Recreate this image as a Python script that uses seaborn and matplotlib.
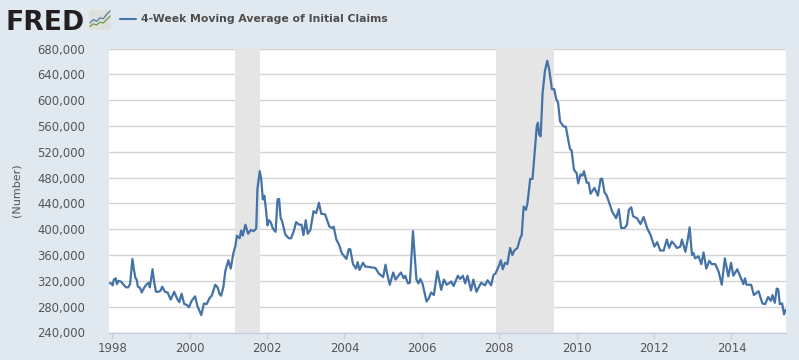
# FRED initial claims chart
import matplotlib
matplotlib.use("Agg")
import matplotlib.pyplot as plt
from matplotlib.lines import Line2D
import seaborn as sns

YEARS = [
    1997.91, 1997.97, 1998.01, 1998.04, 1998.09, 1998.12, 1998.16, 1998.22, 1998.28, 1998.35,
    1998.41, 1998.46, 1998.52, 1998.56, 1998.60, 1998.63, 1998.66, 1998.72, 1998.76, 1998.82,
    1998.89, 1998.94, 1998.97, 1999.04, 1999.08, 1999.13, 1999.19, 1999.25, 1999.29, 1999.36,
    1999.43, 1999.51, 1999.60, 1999.67, 1999.73, 1999.79, 1999.86, 1999.92, 1999.98, 2000.05,
    2000.14, 2000.20, 2000.30, 2000.37, 2000.44, 2000.51, 2000.57, 2000.66, 2000.72, 2000.77,
    2000.81, 2000.87, 2000.92, 2001.00, 2001.06, 2001.13, 2001.18, 2001.22, 2001.29, 2001.33,
    2001.37, 2001.44, 2001.51, 2001.58, 2001.65, 2001.72, 2001.75, 2001.81, 2001.85, 2001.89,
    2001.93, 2001.97, 2002.01, 2002.05, 2002.10, 2002.15, 2002.22, 2002.27, 2002.31, 2002.35,
    2002.39, 2002.47, 2002.56, 2002.62, 2002.69, 2002.75, 2002.83, 2002.89, 2002.94, 2003.00,
    2003.05, 2003.12, 2003.20, 2003.27, 2003.34, 2003.40, 2003.50, 2003.61, 2003.68, 2003.72,
    2003.79, 2003.86, 2003.93, 2004.05, 2004.11, 2004.15, 2004.22, 2004.30, 2004.34, 2004.39,
    2004.48, 2004.54, 2004.58, 2004.69, 2004.80, 2004.89, 2005.00, 2005.06, 2005.10, 2005.17,
    2005.26, 2005.32, 2005.46, 2005.53, 2005.57, 2005.64, 2005.69, 2005.77, 2005.81, 2005.86,
    2005.91, 2005.96, 2006.02, 2006.12, 2006.18, 2006.24, 2006.31, 2006.40, 2006.50, 2006.57,
    2006.64, 2006.72, 2006.76, 2006.82, 2006.93, 2006.99, 2007.06, 2007.12, 2007.18, 2007.27,
    2007.33, 2007.41, 2007.53, 2007.63, 2007.70, 2007.79, 2007.85, 2007.91, 2008.00, 2008.04,
    2008.09, 2008.15, 2008.21, 2008.28, 2008.34, 2008.39, 2008.47, 2008.54, 2008.58, 2008.63,
    2008.69, 2008.73, 2008.80, 2008.86, 2008.92, 2008.97, 2009.00, 2009.03, 2009.07, 2009.12,
    2009.18, 2009.24, 2009.29, 2009.36, 2009.42, 2009.47, 2009.52, 2009.57, 2009.63, 2009.67,
    2009.72, 2009.78, 2009.83, 2009.87, 2009.93, 2010.00, 2010.04, 2010.10, 2010.15, 2010.19,
    2010.26, 2010.31, 2010.36, 2010.46, 2010.55, 2010.62, 2010.66, 2010.72, 2010.77, 2010.83,
    2010.92, 2011.02, 2011.09, 2011.15, 2011.24, 2011.30, 2011.35, 2011.41, 2011.46, 2011.56,
    2011.65, 2011.73, 2011.82, 2011.91, 2012.01, 2012.08, 2012.16, 2012.25, 2012.33, 2012.39,
    2012.46, 2012.52, 2012.59, 2012.68, 2012.72, 2012.81, 2012.87, 2012.92, 2012.98, 2013.02,
    2013.06, 2013.15, 2013.22, 2013.28, 2013.35, 2013.43, 2013.49, 2013.58, 2013.67, 2013.75,
    2013.83, 2013.92, 2013.99, 2014.05, 2014.15, 2014.24, 2014.31, 2014.35, 2014.39, 2014.51,
    2014.58, 2014.70, 2014.80, 2014.87, 2014.95, 2015.02, 2015.06, 2015.12, 2015.17, 2015.21,
    2015.25, 2015.31, 2015.36, 2015.40,
]
CLAIMS_K = [
    317, 316, 313, 322, 324, 315, 320, 319, 315, 310,
    310, 315, 354, 337, 324, 322, 311, 309, 302, 309,
    315, 317, 310, 338, 319, 303, 303, 305, 311, 303,
    302, 291, 303, 293, 287, 300, 284, 283, 279, 289,
    296, 281, 267, 285, 284, 293, 297, 314, 310, 300,
    297, 310, 335, 352, 339, 363, 374, 390, 386, 398,
    390, 407, 393, 399, 397, 401, 462, 490, 477, 446,
    452, 431, 406, 414, 410, 401, 396, 446, 447, 418,
    412, 392, 386, 386, 397, 411, 407, 407, 391, 414,
    393, 399, 428, 425, 441, 424, 423, 404, 402, 404,
    384, 376, 363, 354, 369, 369, 346, 339, 349, 337,
    348, 342, 342, 341, 340, 331, 326, 345, 332, 314,
    333, 322, 333, 324, 328, 316, 317, 397, 363, 322,
    316, 323, 315, 288, 293, 302, 298, 335, 306, 322,
    314, 317, 319, 312, 328, 323, 328, 316, 328, 305,
    322, 303, 317, 313, 321, 313, 329, 332, 345, 352,
    338, 348, 346, 371, 360, 367, 371, 386, 391, 435,
    430, 441, 478, 478, 523, 560, 565, 547, 544, 611,
    645, 661, 648, 617, 617, 602, 596, 567, 562, 559,
    559, 539, 524, 522, 492, 487, 471, 485, 483, 490,
    472, 472, 455, 464, 452, 478, 478, 457, 453, 443,
    427, 417, 431, 402, 402, 407, 430, 434, 420, 417,
    408, 419, 402, 391, 373, 380, 367, 367, 384, 371,
    381, 377, 371, 373, 384, 365, 384, 403, 360, 363,
    355, 358, 346, 364, 339, 351, 346, 346, 334, 314,
    355, 327, 348, 328, 338, 325, 315, 324, 314, 314,
    298, 304, 285, 284, 295, 289, 298, 286, 308, 307,
    284, 285, 268, 275,
]
RECESSIONS = [(2001.16, 2001.83), (2007.92, 2009.42)]
Y_TICKS = list(range(240000, 680001, 40000))
X_TICKS = list(range(1998, 2015, 2))
TITLE = "4-Week Moving Average of Initial Claims"

# little sparkline icon next to the logo
ICON_X = [0, 1, 2, 3, 4, 5, 6]
ICON_BLUE = [2.5, 4.5, 3.5, 5.5, 5, 7.5, 9.5]
ICON_GREEN = [0.5, 2, 1.5, 3, 2.5, 4.5, 6.5]

BG = "#E1E9F0"
LINE = "#4572A7"
TEXT = "#555555"
W, H = 799, 360

sns.set_theme(style="white")
plt.rcParams["font.family"] = ["DejaVu Sans"]

fig = plt.figure(figsize=(W / 100, H / 100), dpi=100, facecolor=BG)
ax = fig.add_axes([109 / W, 1 - 332.5 / H, 677 / W, 284 / H], facecolor="white")

for start, end in RECESSIONS:
    ax.axvspan(start, end, color="#E5E5E5", lw=0, zorder=1)

ax.set_axisbelow(True)
ax.yaxis.grid(True, color="#D4D4D4", lw=1.0, zorder=2)
ax.xaxis.grid(False)

sns.lineplot(x=YEARS, y=[v * 1000 for v in CLAIMS_K], ax=ax, color=LINE, lw=1.6,
             estimator=None, sort=False, zorder=3)

ax.set_xlim(1997.915, 2015.41)
ax.set_ylim(240000, 680000)
ax.set_xticks(X_TICKS)
ax.set_yticks(Y_TICKS)
ax.set_yticklabels([f"{v:,}" for v in Y_TICKS])
ax.tick_params(axis="x", bottom=True, length=4, width=0.8, color="#C0D0E0",
               labelsize=8.4, labelcolor=TEXT, pad=3)
ax.tick_params(axis="y", left=False, labelsize=8.4, labelcolor=TEXT, pad=11)
for side in ["left", "right", "top"]:
    ax.spines[side].set_visible(False)
ax.spines["bottom"].set_color("#C0D0E0")
ax.spines["bottom"].set_linewidth(1.0)

fig.text(17 / W, 1 - 190 / H, "(Number)", rotation=90, ha="center", va="center",
         fontsize=8, color=TEXT)

# header: logo, icon, legend key and title
fig.text(6 / W, 1 - 29.5 / H, "FRED", fontweight="bold", fontsize=19.2,
         color="#231F20", ha="left", va="baseline")
icon = fig.add_axes([89 / W, 1 - 30 / H, 22 / W, 20 / H], facecolor="#DDE0DD")
sns.lineplot(x=ICON_X, y=ICON_BLUE, ax=icon, color="#4F7CA8", lw=0.9, estimator=None)
sns.lineplot(x=ICON_X, y=ICON_GREEN, ax=icon, color="#6C9A3F", lw=0.9, estimator=None)
icon.set_xlim(-0.3, 6.3)
icon.set_ylim(-1.5, 10)
icon.set_xticks([])
icon.set_yticks([])
icon.set_xlabel("")
icon.set_ylabel("")
for side in icon.spines.values():
    side.set_visible(False)

fig.add_artist(Line2D([120 / W, 136 / W], [1 - 18.5 / H, 1 - 18.5 / H], color=LINE, lw=1.5))
fig.text(141 / W, 1 - 18.5 / H, TITLE, fontsize=7.8, fontweight="bold", color="#4D4D4D",
         ha="left", va="center")

fig.savefig("out.png", dpi=100, facecolor=BG)
